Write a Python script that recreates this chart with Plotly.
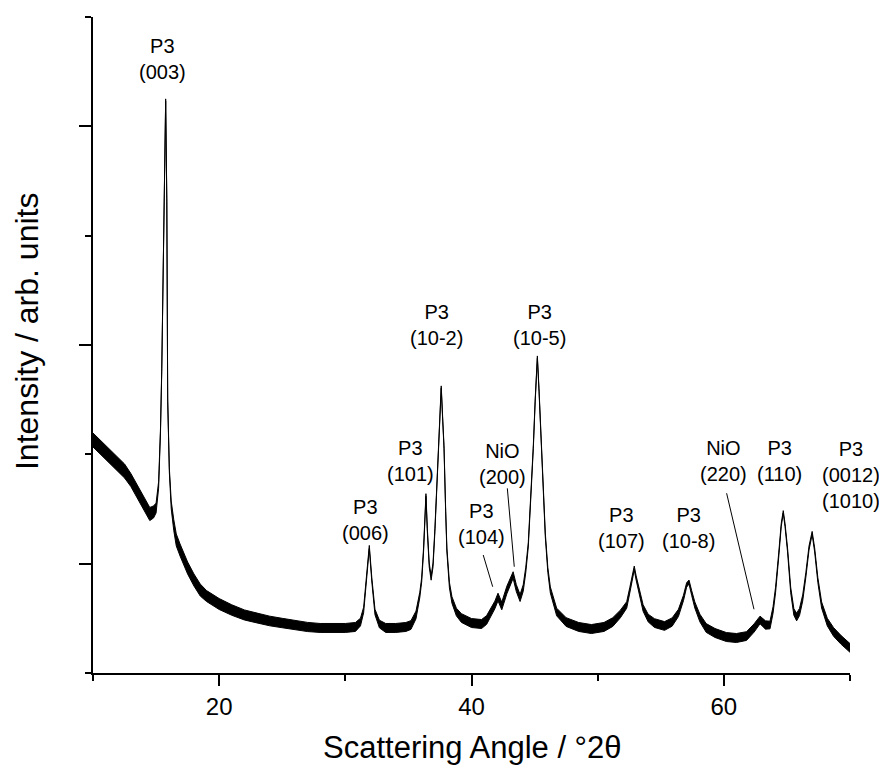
import plotly.graph_objects as go

# ---- data (scattering angle in deg 2theta, intensity in arb. units) ----
angle_deg = [
    10.0, 10.5, 11.0, 11.5, 12.0, 12.5, 13.0, 13.5, 14.0, 14.5,
    14.8, 15.0, 15.2, 15.35, 15.45, 15.55, 15.65, 15.76, 15.85, 15.92,
    16.05, 16.2, 16.4, 16.6, 16.9, 17.5, 18.0, 18.5, 19.0, 20.0,
    21.0, 22.0, 23.0, 24.0, 25.0, 26.0, 27.0, 28.0, 29.0, 30.0,
    30.8, 31.2, 31.45, 31.7, 31.9, 32.1, 32.35, 32.7, 33.2, 34.0,
    34.8, 35.2, 35.6, 35.9, 36.05, 36.2, 36.3, 36.39, 36.5, 36.65,
    36.8, 36.95, 37.1, 37.3, 37.45, 37.6, 37.72, 37.82, 37.95, 38.05,
    38.25, 38.45, 38.8, 39.2, 40.0, 40.8, 41.2, 41.5, 41.85, 42.1,
    42.4, 42.8, 43.1, 43.3, 43.55, 43.85, 44.1, 44.3, 44.5, 44.7,
    44.9, 45.05, 45.22, 45.35, 45.45, 45.65, 45.85, 46.05, 46.25, 46.75,
    47.5, 48.5, 49.5, 50.5, 51.2, 51.8, 52.3, 52.55, 52.75, 52.9,
    53.05, 53.25, 53.6, 54.0, 54.5, 55.3, 55.9, 56.4, 56.8, 57.05,
    57.24, 57.45, 57.7, 58.1, 58.6, 59.3, 60.2, 61.0, 61.8, 62.4,
    62.87, 63.3, 63.66, 63.9, 64.1, 64.35, 64.55, 64.71, 64.85, 65.05,
    65.3, 65.55, 65.77, 66.0, 66.25, 66.5, 66.75, 67.0, 67.2, 67.45,
    67.75, 68.2, 68.7, 69.3, 70.0,
]
intensity = [
    2.131, 2.076, 2.021, 1.967, 1.912, 1.848, 1.765, 1.665, 1.555, 1.454,
    1.473, 1.509, 1.720, 2.223, 2.772, 3.503, 4.509, 5.241, 4.327, 2.497,
    1.857, 1.537, 1.354, 1.217, 1.125, 0.960, 0.851, 0.759, 0.704, 0.631,
    0.576, 0.531, 0.503, 0.476, 0.457, 0.439, 0.421, 0.412, 0.412, 0.412,
    0.421, 0.466, 0.576, 0.942, 1.153, 0.851, 0.558, 0.448, 0.412, 0.412,
    0.421, 0.439, 0.531, 0.713, 0.851, 1.125, 1.445, 1.628, 1.308, 0.988,
    0.869, 0.988, 1.308, 1.857, 2.223, 2.616, 2.314, 2.067, 1.491, 1.125,
    0.805, 0.668, 0.558, 0.503, 0.457, 0.448, 0.485, 0.549, 0.622, 0.695,
    0.613, 0.759, 0.851, 0.896, 0.777, 0.686, 0.777, 0.942, 1.171, 1.582,
    2.067, 2.497, 2.890, 2.589, 2.314, 1.674, 1.262, 0.942, 0.759, 0.558,
    0.466, 0.421, 0.402, 0.421, 0.466, 0.540, 0.622, 0.759, 0.896, 0.960,
    0.869, 0.759, 0.595, 0.503, 0.457, 0.430, 0.466, 0.549, 0.686, 0.805,
    0.832, 0.732, 0.622, 0.503, 0.412, 0.366, 0.329, 0.320, 0.338, 0.412,
    0.485, 0.439, 0.439, 0.576, 0.759, 1.079, 1.354, 1.473, 1.354, 1.125,
    0.759, 0.558, 0.512, 0.558, 0.686, 0.896, 1.143, 1.281, 1.125, 0.851,
    0.622, 0.466, 0.375, 0.302, 0.229,
]
# half-height of the noise band around the trace (arb. units)
noise_halfwidth = [
    0.064, 0.064, 0.064, 0.064, 0.064, 0.064, 0.060, 0.060, 0.060, 0.060,
    0.055, 0.045, 0.030, 0.018, 0.014, 0.012, 0.012, 0.010, 0.012, 0.014,
    0.020, 0.035, 0.050, 0.055, 0.055, 0.055, 0.055, 0.055, 0.050, 0.050,
    0.048, 0.046, 0.045, 0.044, 0.043, 0.042, 0.042, 0.041, 0.041, 0.041,
    0.041, 0.035, 0.025, 0.018, 0.014, 0.018, 0.025, 0.035, 0.041, 0.041,
    0.041, 0.040, 0.035, 0.025, 0.020, 0.018, 0.015, 0.012, 0.015, 0.018,
    0.020, 0.018, 0.015, 0.014, 0.012, 0.010, 0.012, 0.014, 0.015, 0.018,
    0.025, 0.030, 0.035, 0.040, 0.041, 0.041, 0.040, 0.038, 0.035, 0.035,
    0.035, 0.035, 0.032, 0.030, 0.032, 0.032, 0.030, 0.025, 0.020, 0.016,
    0.014, 0.012, 0.010, 0.012, 0.012, 0.015, 0.018, 0.022, 0.028, 0.035,
    0.040, 0.041, 0.041, 0.041, 0.040, 0.035, 0.030, 0.025, 0.020, 0.018,
    0.020, 0.025, 0.030, 0.035, 0.040, 0.040, 0.038, 0.033, 0.025, 0.020,
    0.018, 0.022, 0.028, 0.035, 0.040, 0.041, 0.041, 0.041, 0.040, 0.038,
    0.035, 0.038, 0.035, 0.030, 0.025, 0.020, 0.015, 0.012, 0.015, 0.018,
    0.025, 0.030, 0.035, 0.033, 0.028, 0.022, 0.018, 0.014, 0.018, 0.022,
    0.028, 0.035, 0.040, 0.040, 0.040,
]

# reflection labels: text, angle position, intensity position
label_text = [
    "P3<br>(003)", "P3<br>(006)", "P3<br>(101)", "P3<br>(10-2)", "P3<br>(104)",
    "NiO<br>(200)", "P3<br>(10-5)", "P3<br>(107)", "P3<br>(10-8)", "NiO<br>(220)",
    "P3<br>(110)", "P3<br>(0012)<br>(1010)",
]
label_angle = [15.47, 31.56, 35.20, 37.26, 40.83, 42.42, 45.35, 51.85, 57.16, 60.01, 64.45, 70.0]
label_intensity = [5.616, 1.399, 1.935, 3.183, 1.367, 1.916, 3.183, 1.322, 1.322, 1.935, 1.935, 1.811]
label_xshift = [0, 0, 0, 0, 0, 0, 0, 0, 0, 0, 0, 1]

# leader lines: (angle0, intensity0) -> (angle1, intensity1)
leader_start_angle = [40.93, 42.84, 60.22]
leader_start_int = [1.079, 1.689, 1.644]
leader_end_angle = [41.68, 43.39, 62.39]
leader_end_int = [0.789, 0.972, 0.583]

x_major_ticks = [20, 40, 60]
x_minor_ticks = [10, 30, 50, 70]
y_major_ticks = [1, 3, 5]
y_minor_ticks = [0, 2, 4, 6]

upper = [c + h for c, h in zip(intensity, noise_halfwidth)]
lower = [c - h for c, h in zip(intensity, noise_halfwidth)]

FONT = "Liberation Sans, Arial, sans-serif"

fig = go.Figure()
fig.add_trace(go.Scatter(x=angle_deg, y=lower, mode="lines",
                         line=dict(color="black", width=1), hoverinfo="skip",
                         showlegend=False))
fig.add_trace(go.Scatter(x=angle_deg, y=upper, mode="lines", fill="tonexty",
                         fillcolor="black", line=dict(color="black", width=1),
                         showlegend=False))

for t, xa, ya, xs in zip(label_text, label_angle, label_intensity, label_xshift):
    fig.add_annotation(x=xa, y=ya, xref="x", yref="y", text=t, showarrow=False,
                       xshift=xs,
                       font=dict(family=FONT, size=20, color="black"),
                       xanchor="center", yanchor="middle", align="center")

for x0, y0, x1, y1 in zip(leader_start_angle, leader_start_int, leader_end_angle, leader_end_int):
    fig.add_shape(type="line", x0=x0, y0=y0, x1=x1, y1=y1, xref="x", yref="y",
                  line=dict(color="black", width=1))

# axis titles
fig.add_annotation(text="Scattering Angle / °2θ", xref="paper", yref="paper",
                   x=0.5, y=-0.114, xanchor="center", yanchor="middle", showarrow=False,
                   font=dict(family=FONT, size=31, color="black"))
fig.add_annotation(text="Intensity / arb. units", xref="paper", yref="paper",
                   x=-0.087, y=0.52, xanchor="center", yanchor="middle", showarrow=False,
                   textangle=-90, font=dict(family=FONT, size=32, color="black"))

# page body has an 8 px margin, so the figure is sized to fit the 887x771 window
fig.update_layout(
    width=879, height=763,
    margin=dict(l=85, r=37, t=9, b=98),
    paper_bgcolor="white", plot_bgcolor="white",
    font=dict(family=FONT, color="black"),
    showlegend=False,
    xaxis=dict(range=[10, 70], tickvals=x_major_ticks,
               ticks="outside", ticklen=11, tickwidth=2, tickcolor="black",
               showline=True, linecolor="black", linewidth=2, mirror=False,
               showgrid=False, zeroline=False,
               tickfont=dict(family=FONT, size=24, color="black"),
               minor=dict(tickvals=x_minor_ticks, ticks="outside", ticklen=6,
                          tickwidth=2, tickcolor="black", showgrid=False)),
    yaxis=dict(range=[0, 6], tickvals=y_major_ticks, showticklabels=False,
               ticks="outside", ticklen=12, tickwidth=2, tickcolor="black",
               showline=True, linecolor="black", linewidth=2, mirror=False,
               showgrid=False, zeroline=False,
               minor=dict(tickvals=y_minor_ticks, ticks="outside", ticklen=6,
                          tickwidth=2, tickcolor="black", showgrid=False)),
)

fig.write_html("out.html")
